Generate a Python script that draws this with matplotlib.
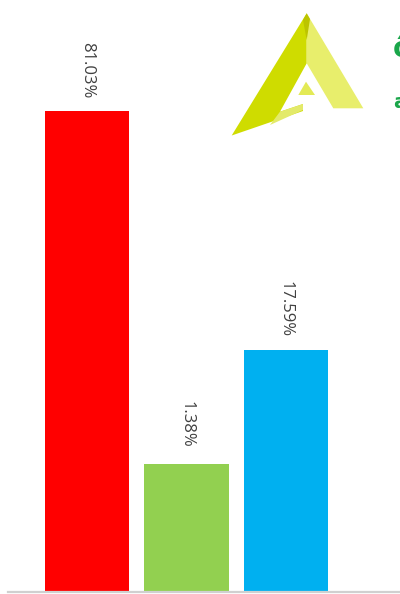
import matplotlib
matplotlib.use("Agg")
from matplotlib import pyplot as plt
from matplotlib.patches import Polygon

# bar heights as drawn (pixel-ish units), labels as printed
categories = ["A", "B", "C"]
heights = [481, 128, 242]
labels = ["81.03%", "1.38%", "17.59%"]
colors = ["#ff0000", "#92d050", "#00b0f0"]

W, H = 400, 594
fig = plt.figure(figsize=(W / 100, H / 100), dpi=100)
fig.set_facecolor("white")

# axes from x=8px to the right edge, baseline at y=592px
ax = fig.add_axes([8 / W, 1 - 592 / H, 1 - 8 / W, 592 / H])
x = list(range(len(categories)))
bars = ax.bar(x, heights, width=0.845, color=colors)
ax.set_xlim(-0.794, 3.146)
ax.set_ylim(0, 592)
for s in ["top", "right", "left"]:
    ax.spines[s].set_visible(False)
ax.spines["bottom"].set_color("#d0d0d0")
ax.spines["bottom"].set_linewidth(1.6)
ax.set_xticks([])
ax.set_yticks([])
ax.patch.set_alpha(0)

gaps = [9, 12, 9]
for b, lab, g in zip(bars, labels, gaps):
    ax.annotate(lab, (b.get_x() + b.get_width() / 2, b.get_height()),
                xytext=(0, g), textcoords="offset points",
                ha="center", va="bottom", rotation=270,
                fontsize=12, color="#404040", family="Open Sans")


# logo in the top right corner (pixel coords of the picture)
def px(pts):
    return [(a / W, 1 - b / H) for a, b in pts]


dark = [(306.7, 13.3), (306.7, 63.3), (280, 111.7), (303, 104),
        (303, 111), (231.7, 135.5)]
light = [(306.7, 13.3), (363.3, 108.3), (333.3, 108.3), (306.7, 63.3)]
tri = [(306, 81.7), (298.3, 95), (315, 95)]
foot = [(280, 111.7), (303, 104), (303, 110), (270, 125)]
shade = [(306.7, 13.3), (310, 19), (306.7, 40), (303, 20)]
for pts, c in [(dark, "#cfdc00"), (light, "#e8ee6c"), (tri, "#e3ea55"),
               (foot, "#e3ea6a"), (shade, "#bcc400")]:
    fig.patches.append(Polygon(px(pts), closed=True, transform=fig.transFigure,
                               facecolor=c, edgecolor="none"))

# green text cut off at the right edge
fig.text(393 / W, 1 - 57 / H, "ô", fontsize=20, color="#1aa64a",
         fontweight="bold", ha="left", va="baseline")
fig.text(393 / W, 1 - 108 / H, "a", fontsize=14, color="#1aa64a",
         fontweight="bold", ha="left", va="baseline")

fig.savefig("out.png", dpi=100)
